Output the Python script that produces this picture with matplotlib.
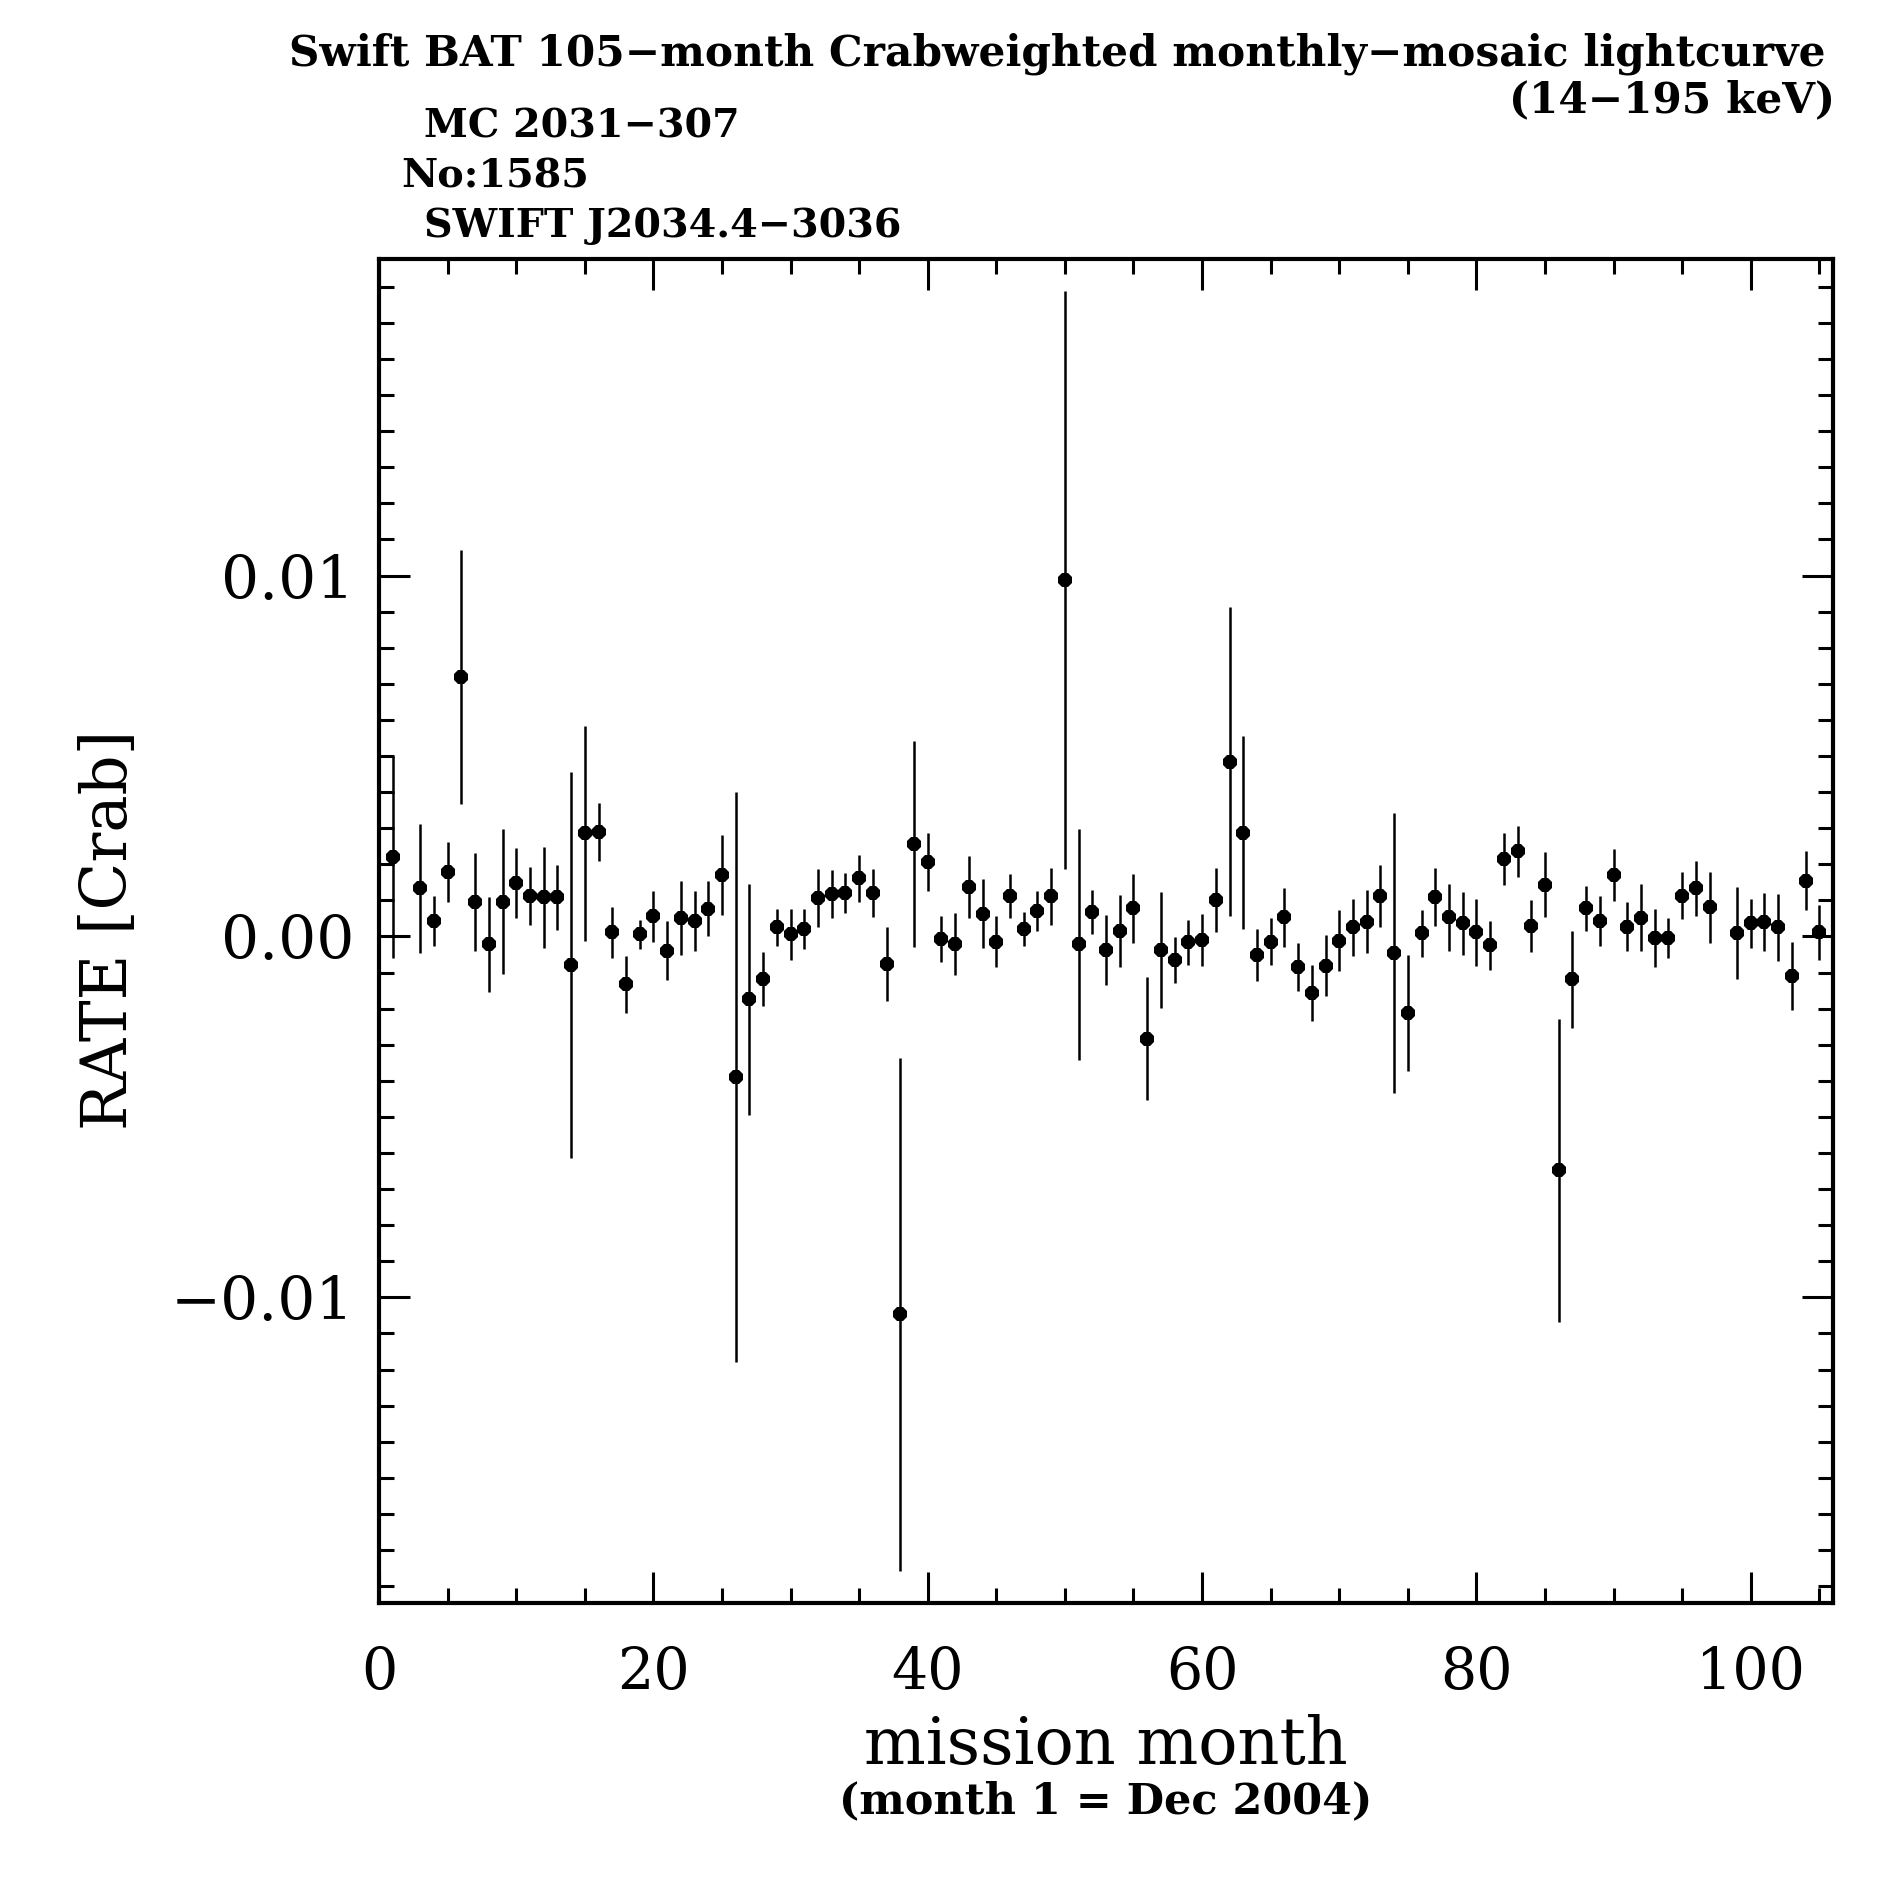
import matplotlib
matplotlib.use("Agg")
import matplotlib.pyplot as plt
from matplotlib.ticker import MultipleLocator
import numpy as np

# mission months with a measurement (2 and 98 missing)
month = [1, 3, 4, 5, 6, 7, 8, 9, 10, 11, 12, 13, 14, 15, 16, 17, 18, 19, 20,
         21, 22, 23, 24, 25, 26, 27, 28, 29, 30, 31, 32, 33, 34, 35, 36, 37, 38,
         39, 40, 41, 42, 43, 44, 45, 46, 47, 48, 49, 50, 51, 52, 53, 54, 55, 56,
         57, 58, 59, 60, 61, 62, 63, 64, 65, 66, 67, 68, 69, 70, 71, 72, 73, 74,
         75, 76, 77, 78, 79, 80, 81, 82, 83, 84, 85, 86, 87, 88, 89, 90, 91, 92,
         93, 94, 95, 96, 97, 99, 100, 101, 102, 103, 104, 105]

# rate in units of 1e-4 Crab
rate = [22.1, 13.3, 4.3, 17.8, 71.8, 9.6, -2.2, 9.6, 14.7, 11.2, 10.8, 10.8, -7.8,
        28.6, 28.9, 1.1, -13.3, 0.6, 5.6, -3.9, 5.2, 4.3, 7.7, 17.0, -38.9, -17.4,
        -11.8, 2.5, 0.6, 2.1, 10.6, 11.8, 12.0, 16.1, 12.0, -7.6, -104.7,
        25.7, 20.7, -0.6, -2.1, 13.7, 6.3, -1.4, 11.2, 2.1, 7.1, 11.2, 98.8, -2.2,
        6.8, -3.7, 1.5, 7.8, -28.3, -3.7, -6.6, -1.6, -1.1, 10.1, 48.4, 28.8, -5.1,
        -1.4, 5.3, -8.4, -15.7, -8.1, -1.2, 2.5, 4.1, 11.2, -4.7, -21.1, 0.9, 10.9,
        5.3, 3.6, 1.2, -2.5, 21.4, 23.6, 2.9, 14.3, -64.8, -11.9, 7.8, 4.3, 17.0,
        2.7, 5.2, -0.4, -0.4, 11.3, 13.3, 8.1, 1.0, 3.6, 4.1, 2.5, -10.9, 15.5, 1.1]

# 1-sigma error in units of 1e-4 Crab
err = [28.0, 18.0, 7.0, 8.3, 35.2, 13.6, 13.2, 20.1, 9.7, 8.0, 14.1, 9.0, 53.5,
       29.8, 8.1, 7.2, 7.8, 4.0, 7.0, 8.3, 10.2, 8.4, 7.7, 11.0, 79.0, 32.0,
       7.6, 5.1, 7.1, 5.5, 8.0, 6.7, 5.6, 6.6, 6.6, 10.2, 71.0,
       28.5, 8.0, 6.4, 8.5, 8.6, 9.5, 7.0, 6.0, 4.8, 5.5, 7.9, 80.0, 32.0,
       6.2, 9.7, 10.0, 9.5, 17.0, 16.0, 6.4, 6.2, 7.2, 9.0, 42.8, 26.7, 7.2,
       6.4, 8.2, 6.7, 7.8, 8.5, 8.5, 7.8, 8.7, 8.5, 38.8, 16.1, 6.5, 8.1,
       9.2, 8.7, 9.3, 6.8, 7.2, 7.0, 7.2, 9.0, 42.0, 13.5, 6.2, 7.0, 7.2,
       6.8, 9.2, 8.0, 5.6, 6.5, 7.7, 9.9, 12.7, 6.8, 8.0, 9.3, 9.5, 8.3, 7.5]

rate = np.array(rate) * 1e-4
err = np.array(err) * 1e-4

fig = plt.figure(figsize=(18.87, 18.87), dpi=100)
ax = fig.add_axes([0.2009, 0.1505, 0.7705, 0.7122])

ax.errorbar(month, rate, yerr=err, fmt="8", color="black", ms=11,
            elinewidth=1.8, capsize=0, markeredgewidth=0)

ax.set_xlim(0, 106)
ax.set_ylim(-0.01847, 0.01877)

ax.xaxis.set_major_locator(MultipleLocator(20))
ax.xaxis.set_minor_locator(MultipleLocator(5))
ax.yaxis.set_major_locator(MultipleLocator(0.01))
ax.yaxis.set_minor_locator(MultipleLocator(0.001))
ax.tick_params(which="both", direction="in", top=True, right=True, width=2.2)
ax.tick_params(which="major", length=22)
ax.tick_params(which="minor", length=11)
ax.tick_params(axis="y", which="major", labelsize=43, pad=18)
ax.tick_params(axis="x", which="major", labelsize=41, pad=30)
for s in ax.spines.values():
    s.set_linewidth(3)

ax.set_yticks([-0.01, 0.0, 0.01])
ax.set_yticklabels(["\u22120.01", "0.00", "0.01"], family="DejaVu Serif")
ax.set_xticks([0, 20, 40, 60, 80, 100])
ax.set_xticklabels(["0", "20", "40", "60", "80", "100"], family="DejaVu Serif")

fig.text(0.058, 0.507, "RATE [Crab]", rotation=90, ha="center", va="center",
         family="DejaVu Serif", fontsize=45)
fig.text(0.586, 0.0745, "mission month", ha="center", va="center",
         family="DejaVu Serif", fontsize=47)
fig.text(0.586, 0.0455, "(month 1 = Dec 2004)", ha="center", va="center",
         family="DejaVu Serif", fontweight="bold", fontsize=31)

title = dict(family="DejaVu Serif", fontweight="bold", fontsize=30.4)
fig.text(0.9675, 0.9714, "Swift BAT 105\u2212month Crabweighted monthly\u2212mosaic lightcurve",
         ha="right", va="center", **title)
fig.text(0.9725, 0.947, "(14\u2212195 keV)", ha="right", va="center", **title)

name = dict(family="DejaVu Serif", fontweight="bold", fontsize=28.5)
fig.text(0.2245, 0.933, "MC 2031\u2212307", ha="left", va="center", **name)
fig.text(0.2124, 0.9063, "No:1585", ha="left", va="center", **name)
fig.text(0.2245, 0.880, "SWIFT J2034.4\u22123036", ha="left", va="center", **name)

fig.savefig("out.png", dpi=100, facecolor="white")
